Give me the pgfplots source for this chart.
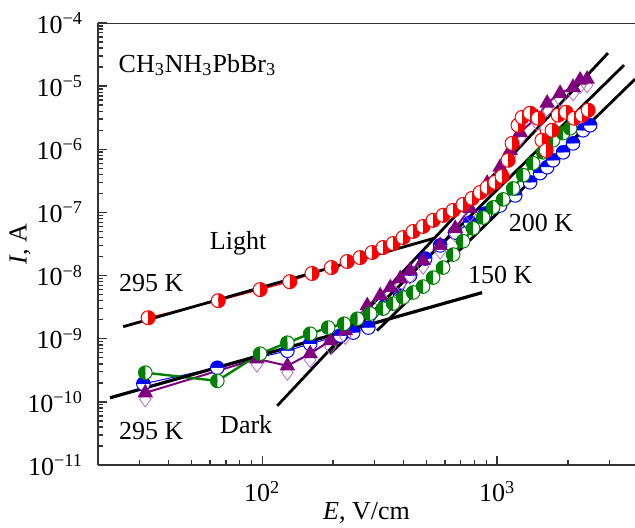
\documentclass[border=0pt]{standalone}
\usepackage{fontspec}
\setmainfont{Liberation Serif}
\usepackage{pgfplots}
\pgfplotsset{compat=1.18}
\usetikzlibrary{plotmarks}

\definecolor{dkgreen}{RGB}{0,128,0}
\definecolor{purp}{RGB}{128,0,128}
\definecolor{lilac}{RGB}{185,105,205}

\begin{document}
\fontsize{13}{15}\selectfont
\begin{tikzpicture}
\begin{axis}[
  xmode=log, ymode=log,
  scale only axis, width=268.5pt, height=221pt,
  xmin=20, xmax=3864, ymin=1e-11, ymax=1e-4,
  axis x line*=bottom, axis y line*=left,
  axis line style={line width=1pt, black!80},
  xtick={100,1000},
  xticklabels={10\textsuperscript{2},10\textsuperscript{3}},
  minor xtick={30,40,50,60,70,80,90,200,300,400,500,600,700,800,900,2000,3000},
  ytick={1e-11,1e-10,1e-9,1e-8,1e-7,1e-6,1e-5,1e-4},
  yticklabels={10\textsuperscript{−11},10\textsuperscript{−10},10\textsuperscript{−9},10\textsuperscript{−8},10\textsuperscript{−7},10\textsuperscript{−6},10\textsuperscript{−5},10\textsuperscript{−4}},
  minor ytick={2e-11,3e-11,4e-11,5e-11,6e-11,7e-11,8e-11,9e-11,
               2e-10,3e-10,4e-10,5e-10,6e-10,7e-10,8e-10,9e-10,
               2e-9,3e-9,4e-9,5e-9,6e-9,7e-9,8e-9,9e-9,
               2e-8,3e-8,4e-8,5e-8,6e-8,7e-8,8e-8,9e-8,
               2e-7,3e-7,4e-7,5e-7,6e-7,7e-7,8e-7,9e-7,
               2e-6,3e-6,4e-6,5e-6,6e-6,7e-6,8e-6,9e-6,
               2e-5,3e-5,4e-5,5e-5,6e-5,7e-5,8e-5,9e-5},
  major tick length=4.5pt, minor tick length=2.5pt,
  tick style={line width=0.7pt, black!80},
  xticklabel style={yshift=-3.5pt}, yticklabel style={xshift=-3pt},
  xlabel={\textit{E}, V/cm}, ylabel={\textit{I}, A},
  xlabel style={at={(axis description cs:0.5,-0.109)}, anchor=center},
  ylabel style={at={(axis description cs:-0.145,0.5)}, anchor=center},
]
% dark, blue (upper half filled)
\addplot[blue, line width=0.5pt, mark=halfcircle*, mark size=3.4pt,
  mark options={solid, rotate=180, fill=white, mark color=blue}] coordinates {
(31.2,1.93e-10) (64.4,3.47e-10) (128,6.45e-10) (160,8.3e-10) (215,1.12e-9)
(244,1.25e-9) (283,1.5e-9) (334,3.34e-9) (387,4.8e-9) (426,1.0e-8)
(494,1.86e-8) (572,3.0e-8) (663,4.8e-8) (767,6.9e-8) (889,9.6e-8)
(1030,1.29e-7) (1194,1.86e-7) (1381,3.0e-7) (1524,4.2e-7) (1633,5.2e-7)
(1731,6.7e-7) (1909,8.95e-7) (2105,1.24e-6) (2322,2.0e-6) (2488,2.4e-6)
};
% dark, purple open diamonds
\addplot[lilac, only marks, mark=diamond, mark size=3.8pt, mark options={solid, fill=white}] coordinates {
(31.8,1.1e-10) (95,3.9e-10) (128,2.9e-10) (160,4.6e-10) (195,7.4e-10)
(226,1.07e-9) (280,2.7e-9) (318,3.8e-9) (351,5.2e-9) (387,7.2e-9)
(426,9.6e-9) (484,1.38e-8) (572,2.4e-8) (663,4.5e-8) (767,9.3e-8)
(907,2.3e-7) (1030,4.2e-7) (1136,7.7e-7) (1253,1.5e-6) (1480,2.6e-6)
(1633,4.3e-6) (1854,6.2e-6) (2105,7.7e-6) (2256,1.0e-5) (2415,1.03e-5)
};
% dark, purple filled triangles
\addplot[purp, line width=1pt, mark=triangle*, mark size=3.5pt, mark options={solid}] coordinates {
(31.8,1.39e-10) (95,4.8e-10) (128,3.72e-10) (160,5.8e-10) (195,9.3e-10)
(226,1.34e-9) (280,3.34e-9) (318,4.8e-9) (351,6.45e-9) (387,8.95e-9)
(426,1.2e-8) (484,1.73e-8) (572,3.0e-8) (663,5.6e-8) (767,1.16e-7)
(907,2.9e-7) (1030,5.2e-7) (1136,9.6e-7) (1253,1.86e-6) (1480,3.2e-6)
(1633,5.4e-6) (1854,7.7e-6) (2105,9.6e-6) (2256,1.25e-5) (2415,1.29e-5)
};
% dark, green (left half filled)
\addplot[dkgreen, line width=1.2pt, mark=halfcircle*, mark size=3.4pt,
  mark options={solid, line width=0.5pt, rotate=-90, fill=white, mark color=dkgreen}] coordinates {
(31.8,2.9e-10) (64.4,2.15e-10) (98,5.8e-10) (128,8.65e-10) (160,1.2e-9)
(191,1.5e-9) (223,1.73e-9) (254,2.07e-9) (288,2.5e-9) (327,3.0e-9)
(361,3.6e-9) (398,4.5e-9) (439,5.4e-9) (484,6.7e-9) (534,9.3e-9)
(589,1.34e-8) (650,2.15e-8) (716,3.5e-8) (790,5.6e-8) (872,8.3e-8)
(961,1.2e-7) (1061,1.61e-7) (1170,2.4e-7) (1291,3.9e-7) (1423,6.0e-7)
(1570,8.95e-7) (1731,1.39e-6) (1909,1.8e-6) (2045,2.15e-6)
};
% light, red (right half filled)
\addplot[red, line width=0.6pt, mark=halfcircle*, mark size=3.5pt,
  mark options={solid, line width=0.5pt, rotate=90, fill=white, mark color=red}] coordinates {
(32.7,2.15e-9) (65,4.0e-9) (98,6.0e-9) (131,8.0e-9) (163,1.08e-8)
(197,1.34e-8) (230,1.67e-8) (261,1.93e-8) (294,2.32e-8) (327,2.78e-8)
(361,3.22e-8) (398,4.0e-8) (439,5.0e-8) (484,6.0e-8) (534,7.5e-8)
(589,9.0e-8) (650,1.08e-7) (716,1.34e-7) (783,1.67e-7) (847,2.07e-7)
(907,2.49e-7) (980,3.0e-7) (1050,3.72e-7) (1113,6.7e-7) (1158,1.24e-6)
(1228,2.4e-6) (1277,3.2e-6) (1381,3.72e-6) (1493,3.1e-6) (1552,1.39e-6)
(1617,9.6e-7) (1714,2.0e-6) (1820,3.47e-6) (1966,3.86e-6) (2127,3.1e-6)
(2301,3.47e-6) (2440,4.16e-6)
};
% fitted lines
\addplot[black, line width=1.4pt, no marks] coordinates {(25.6,1.55e-9) (534,3.86e-8)};
\addplot[black, line width=1.6pt, no marks] coordinates {(22.5,1.16e-10) (863,5.37e-9)};
\addplot[black, line width=1.4pt, no marks] coordinates {(115.8,8.65e-11) (2965,3.34e-5)};
\addplot[black, line width=1.4pt, no marks] coordinates {(194.6,5.78e-10) (3467,2.15e-5)};
\addplot[black, line width=1.4pt, no marks] coordinates {(308,1.34e-9) (3864,1.29e-5)};
% labels
\node[anchor=west, inner sep=0pt] at (axis cs:24.4,2.15e-5) {CH\textsubscript{3}NH\textsubscript{3}PbBr\textsubscript{3}};
\node at (axis cs:79,3.2e-8) {Light};
\node at (axis cs:33.7,7.5e-9) {295 K};
\node at (axis cs:33.7,3.46e-11) {295 K};
\node at (axis cs:85.5,4.3e-11) {Dark};
\node at (axis cs:1538,6.7e-8) {200 K};
\node at (axis cs:1031,1.04e-8) {150 K};
\draw[line width=1pt, black!80] (rel axis cs:0,1) -- (rel axis cs:1,1);
\end{axis}
\pgfresetboundingbox
\path ([xshift=-49pt,yshift=-31.5pt]current axis.south west) rectangle ([yshift=11.5pt]current axis.north east);
\end{tikzpicture}
\end{document}
